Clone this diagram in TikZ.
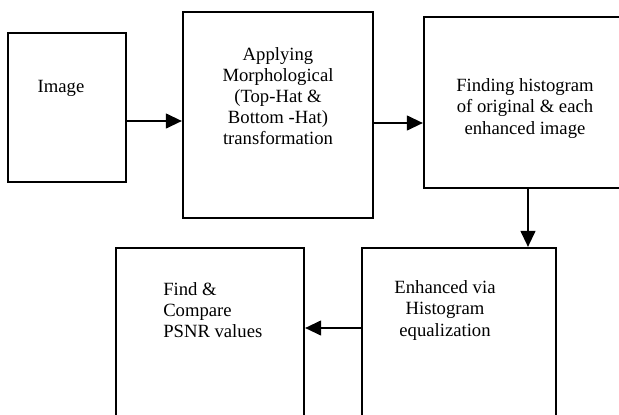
\documentclass[tikz,border=0pt]{standalone}
\usepackage{fontspec}
\setmainfont{Liberation Serif}
\usetikzlibrary{arrows.meta}
\begin{document}
\begin{tikzpicture}[x=0.75pt,y=-0.75pt,
  box/.style={draw=black,line width=1.6pt,inner sep=0pt},
  txt/.style={font=\fontsize{14}{15.8}\selectfont,align=center,inner sep=0pt},
  ltxt/.style={font=\fontsize{14}{15.8}\selectfont,align=left,inner sep=0pt},
  arr/.style={line width=1.6pt,-{Triangle[length=12pt,width=11pt]}}]
\useasboundingbox (0,0) rectangle (619,415);
\clip (0,0) rectangle (619,415);
\node[box,minimum width=118*0.75pt,minimum height=149*0.75pt] (b1) at (67,107.5) {};
\node[box,minimum width=190*0.75pt,minimum height=206*0.75pt] (b2) at (278,115) {};
\node[box,minimum width=200*0.75pt,minimum height=171*0.75pt] (b3) at (524,102.5) {};
\node[box,minimum width=194*0.75pt,minimum height=180*0.75pt] (b4) at (459,338) {};
\node[box,minimum width=188*0.75pt,minimum height=180*0.75pt] (b5) at (210,338) {};
\node[txt] (t1) at (61,88) {Image};
\node[txt] (t2) at (278,96) {Applying\\Morphological\\(Top-Hat \&\\Bottom -Hat)\\transformation};
\node[txt] (t3) at (525,108.5) {Finding histogram\\of original \& each\\enhanced image};
\node[txt] (t4) at (445,310.5) {Enhanced via\\Histogram\\equalization};
\node[ltxt,anchor=west] (t5) at (163,310.5) {Find \&\\Compare\\PSNR values};
\draw[arr] (b1.east |- 0,121) -- (b2.west |- 0,121);
\draw[arr] (b2.east |- 0,123) -- (b3.west |- 0,123);
\draw[arr] (b3.south -| 528,0) -- (b4.north -| 528,0);
\draw[arr] (b4.west |- 0,328) -- (b5.east |- 0,328);
\end{tikzpicture}
\end{document}
